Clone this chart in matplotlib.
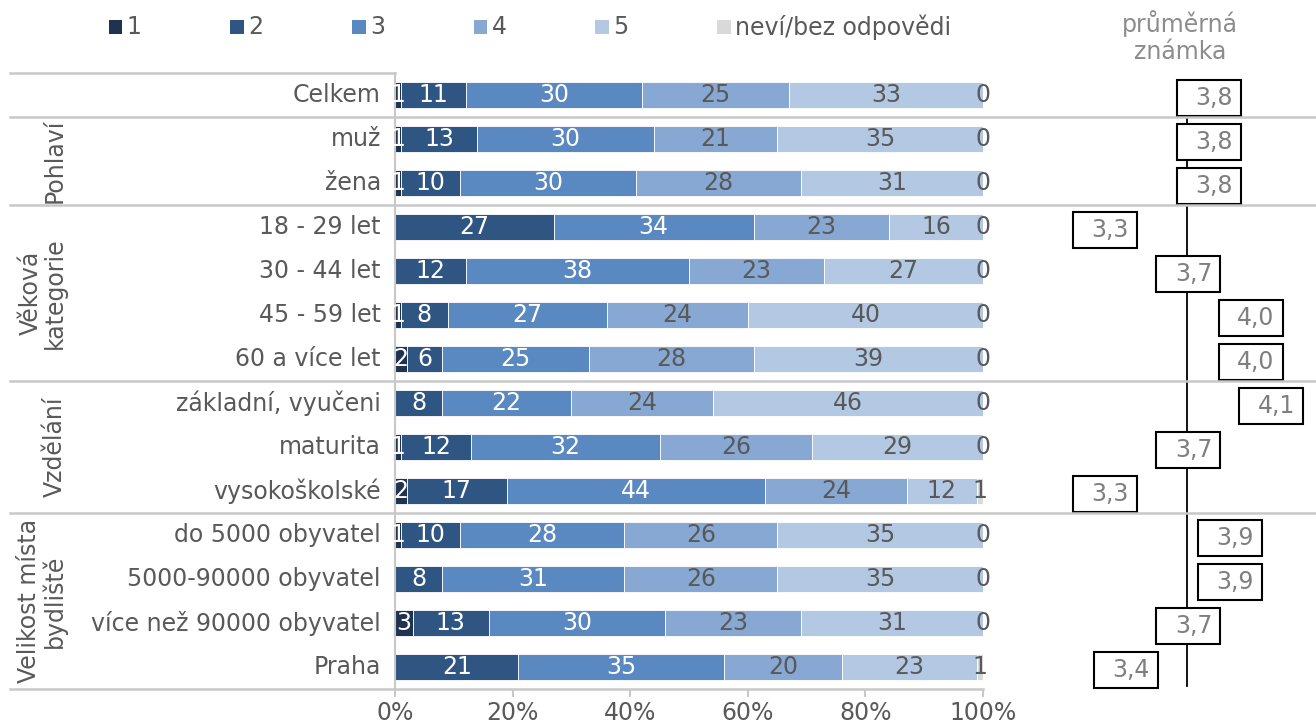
import matplotlib
matplotlib.use("Agg")
import matplotlib.pyplot as plt
from matplotlib.patches import Rectangle
from matplotlib.lines import Line2D
import numpy as np

categories = ["Celkem", "muž", "žena", "18 - 29 let", "30 - 44 let", "45 - 59 let",
              "60 a více let", "základní, vyučeni", "maturita", "vysokoškolské",
              "do 5000 obyvatel", "5000-90000 obyvatel", "více než 90000 obyvatel", "Praha"]
groups = ["Pohlaví", "Věková\nkategorie", "Vzdělání", "Velikost místa\nbydliště"]
group_rows = [(1, 2), (3, 6), (7, 9), (10, 13)]

series_names = ["1", "2", "3", "4", "5", "neví/bez odpovědi"]
s1 = [1, 1, 1, 0, 0, 1, 2, 0, 1, 2, 1, 0, 3, 0]
s2 = [11, 13, 10, 27, 12, 8, 6, 8, 12, 17, 10, 8, 13, 21]
s3 = [30, 30, 30, 34, 38, 27, 25, 22, 32, 44, 28, 31, 30, 35]
s4 = [25, 21, 28, 23, 23, 24, 28, 24, 26, 24, 26, 26, 23, 20]
s5 = [33, 35, 31, 16, 27, 40, 39, 46, 29, 12, 35, 35, 31, 23]
nevi = [0, 0, 0, 0, 0, 0, 0, 0, 0, 1, 0, 0, 0, 1]
mean_grade = [3.8, 3.8, 3.8, 3.3, 3.7, 4.0, 4.0, 4.1, 3.7, 3.3, 3.9, 3.9, 3.7, 3.4]

colors = ["#1f3350", "#2f5583", "#5a88c1", "#87a8d3", "#b3c8e3", "#d9d9d9"]
label_colors = ["white", "white", "white", "#595959", "#595959", "#595959"]
grey = "#595959"
line_grey = "#c8c8c8"
fs = 17

W, H = 1316, 728
fig = plt.figure(figsize=(W / 100, H / 100), dpi=100)

# main bar axes (pixel positions from the reference)
x0, x1, ytop, ybot = 395, 983, 73, 689
ax = fig.add_axes([x0 / W, 1 - ybot / H, (x1 - x0) / W, (ybot - ytop) / H])
data = [s1, s2, s3, s4, s5, nevi]
y = np.arange(len(categories))
left = np.zeros(len(categories))
for k, vals in enumerate(data):
    vals = np.array(vals, dtype=float)
    ax.barh(y, vals, left=left, height=0.6, color=colors[k], edgecolor="white", linewidth=0.6)
    for i, v in enumerate(vals):
        if k == 0 and v == 0:
            continue
        ax.text(left[i] + v / 2, i, f"{int(v)}", ha="center", va="center",
                color=label_colors[k], fontsize=fs)
    left += vals

ax.set_xlim(0, 100)
ax.set_ylim(len(categories) - 0.5, -0.5)
ax.set_yticks([])
ax.set_xticks(np.arange(0, 101, 20))
ax.set_xticklabels([f"{t}%" for t in range(0, 101, 20)], fontsize=fs, color=grey)
ax.tick_params(axis="x", length=6, color=line_grey, width=1.5, pad=3)
for s in ["top", "right"]:
    ax.spines[s].set_visible(False)
ax.spines["left"].set_color(line_grey)
ax.spines["left"].set_linewidth(1.5)
ax.spines["bottom"].set_visible(False)

# category labels
for i, c in enumerate(categories):
    ax.text(-2.4, i, c, ha="right", va="center", fontsize=fs, color=grey)

# group labels
for g, (a, b) in zip(groups, group_rows):
    yc = ytop + 44 * ((a + b) / 2 + 0.5)
    fig.text(67 / W, 1 - yc / H, g, rotation=90, ha="right", va="center",
             multialignment="center", fontsize=fs, color=grey, linespacing=1.0)

# separator lines
def hline(xa, xb, yy):
    fig.add_artist(Line2D([xa / W, xb / W], [1 - yy / H, 1 - yy / H],
                          color=line_grey, linewidth=1.8, transform=fig.transFigure))

hline(10, 395, ytop)
hline(10, 983, ybot)
for a, b in group_rows:
    hline(10, W, ytop + 44 * a)

# right panel with average grades
rx0, rx1 = 1000, 1316
ax2 = fig.add_axes([rx0 / W, 1 - ybot / H, (rx1 - rx0) / W, (ybot - ytop) / H])
scale = 208.0
xmin = 3.8 + (rx0 - 1209) / scale
xmax = 3.8 + (rx1 - 1209) / scale
ax2.set_xlim(xmin, xmax)
ax2.set_ylim(len(categories) - 0.5, -0.5)
ax2.axis("off")
ax2.plot([3.694, 3.694], [0, 13.43], color="black", linewidth=1.3, zorder=1)
bw = 64 / scale
bh = 36 / 44
for i, v in enumerate(mean_grade):
    yc = i + 3 / 44
    ax2.add_patch(Rectangle((v - bw / 2, yc - bh / 2), bw, bh, facecolor="white",
                            edgecolor="black", linewidth=1.5, zorder=2, clip_on=False))
    ax2.text(v + bw / 2 - 8 / scale, yc, f"{v:.1f}".replace(".", ","), ha="right",
             va="center", fontsize=fs, color="#7f7f7f", zorder=3, clip_on=False)

fig.text(1180 / W, 1 - 37 / H, "průměrná\nznámka", ha="center", va="center",
         fontsize=fs, color="#8c8c8c", linespacing=1.2)

# legend
for k, name in enumerate(series_names):
    lx = 108.6 + 121.7 * k
    fig.add_artist(Rectangle((lx / W, 1 - 34 / H), 13.5 / W, 13.5 / H,
                             facecolor=colors[k], edgecolor="none", transform=fig.transFigure))
    fig.text((lx + 18) / W, 1 - 27 / H, name, ha="left", va="center",
             fontsize=fs, color=grey)

fig.savefig("out.png", dpi=100)
